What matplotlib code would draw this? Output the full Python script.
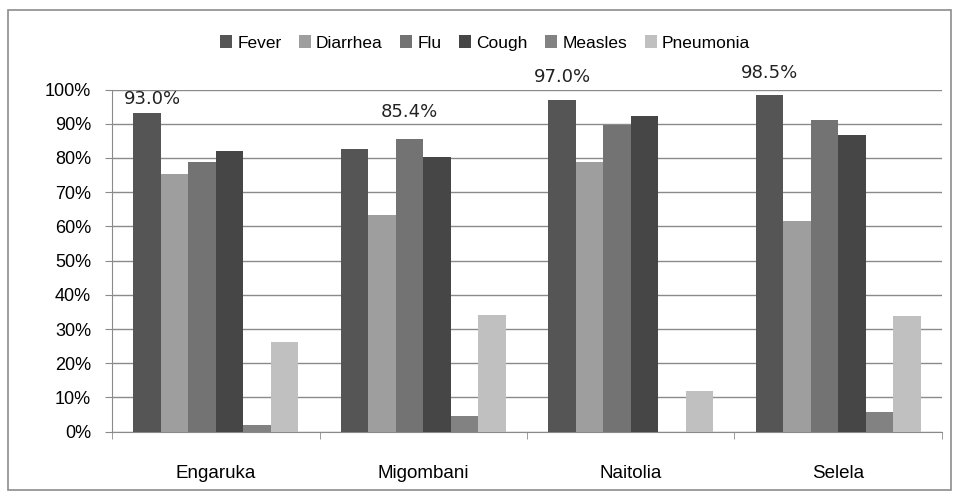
import matplotlib.pyplot as plt
import numpy as np
from matplotlib.patches import Rectangle
from matplotlib.ticker import FixedLocator, PercentFormatter

villages = ["Engaruka", "Migombani", "Naitolia", "Selela"]
diseases = ["Fever", "Diarrhea", "Flu", "Cough", "Measles", "Pneumonia"]
fever = [93.0, 82.7, 96.8, 98.4]
diarrhea = [75.2, 63.2, 78.7, 61.7]
flu = [78.7, 85.4, 89.5, 91.0]
cough = [82.1, 80.2, 92.2, 86.6]
measles = [1.9, 4.7, 0.0, 5.9]
pneumonia = [26.1, 34.0, 12.0, 33.7]
top_labels = ["93.0%", "85.4%", "97.0%", "98.5%"]

series = [fever, diarrhea, flu, cough, measles, pneumonia]
colors = ["#555555", "#9e9e9e", "#737373", "#464646", "#828282", "#c0c0c0"]

plt.rcParams['font.family'] = ['Liberation Sans Narrow', 'Liberation Sans', 'DejaVu Sans']

fig = plt.figure(figsize=(9.56, 4.97), dpi=100)
fig.patches.append(Rectangle((8/956, 1-490/497), 943/956, 480/497, transform=fig.transFigure,
                             fill=False, edgecolor="#8c8c8c", lw=1.2))
ax = fig.add_axes([112/956, 1-431.7/497, 830/956, (431.7-89.5)/497])

x = np.arange(len(villages))
w = 0.1325
for i, (vals, c) in enumerate(zip(series, colors)):
    ax.bar(x + (i - 2.5) * w, vals, w, color=c, label=diseases[i], zorder=3)

# label of the tallest bar in each group: (series index, dx px, dy px)
label_pos = [(0, 5, 14), (2, 0, 27), (0, 0, 23), (0, 0, 22)]
for k, (si, dx, dy) in enumerate(label_pos):
    xb = x[k] + (si - 2.5) * w
    ax.annotate(top_labels[k], (xb, series[si][k]), xytext=(dx, dy), textcoords="offset pixels",
                ha="center", va="center", fontsize=13, family="DejaVu Sans", color="#222222")

ax.set_ylim(0, 100)
ax.set_xlim(-0.5, 3.5)
ax.yaxis.set_major_locator(FixedLocator(np.arange(0, 101, 10)))
ax.yaxis.set_major_formatter(PercentFormatter(decimals=0))
ax.grid(axis="y", color="#8a8a8a", lw=1.0, zorder=0)
ax.set_xticks(x)
ax.set_xticklabels(villages, fontsize=13.5)
ax.set_xticks(np.arange(-0.5, 4.0, 1.0), minor=True)
ax.tick_params(axis="x", which="major", length=0, pad=24)
ax.tick_params(axis="x", which="minor", length=5, color="#8a8a8a")
ax.tick_params(axis="y", length=5, color="#8a8a8a", labelsize=13, pad=10)
for s in ["top", "right"]:
    ax.spines[s].set_visible(False)
for s in ["left", "bottom"]:
    ax.spines[s].set_color("#8a8a8a")

ax.legend(loc="center", bbox_to_anchor=(485/956, 1-43/497), bbox_transform=fig.transFigure,
          ncol=6, frameon=False, fontsize=12.5, handlelength=0.7, handleheight=0.7,
          handletextpad=0.3, columnspacing=1.0)

fig.savefig("out.png", dpi=100)
